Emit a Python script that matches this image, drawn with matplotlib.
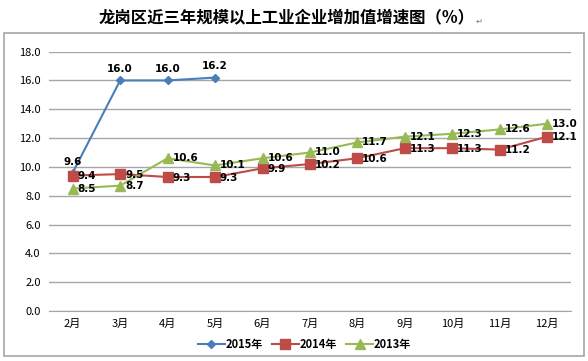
import matplotlib.pyplot as plt
from matplotlib.patches import Rectangle

plt.rcParams['font.family'] = ['Noto Sans CJK SC', 'DejaVu Sans']

#----------datos----------#
meses = ["2月", "3月", "4月", "5月", "6月", "7月", "8月", "9月", "10月", "11月", "12月"]
v2015 = [9.6, 16.0, 16.0, 16.2]
v2014 = [9.4, 9.5, 9.3, 9.3, 9.9, 10.2, 10.6, 11.3, 11.3, 11.2, 12.1]
v2013 = [8.5, 8.7, 10.6, 10.1, 10.6, 11.0, 11.7, 12.1, 12.3, 12.6, 13.0]
yticks = [0, 2, 4, 6, 8, 10, 12, 14, 16, 18]

c15 = "#4A7EBB"
c14 = "#BE4B48"
c13 = "#98B954"

fig = plt.figure(figsize=(5.88, 3.61), dpi=100)
fig.patches.append(Rectangle((0.006, 0.013), 0.988, 0.896, transform=fig.transFigure,
                             fill=False, edgecolor="#A6A6A6", linewidth=1.2))

fig.text(0.488, 0.952, "龙岗区近三年规模以上工业企业增加值增速图（%）", ha="center", va="center",
         fontsize=11.8, fontweight="bold")
fig.text(0.815, 0.940, "↵", ha="center", va="center", fontsize=6, color="#777777")

ax = fig.add_axes([0.0833, 0.1385, 0.8877, 0.7185])
x = list(range(len(meses)))

ax.plot(x[:len(v2015)], v2015, color=c15, marker="D", markersize=4.5, linewidth=1.5, label="2015年")
ax.plot(x, v2014, color=c14, marker="s", markersize=7.5, linewidth=1.5, label="2014年")
ax.plot(x, v2013, color=c13, marker="^", markersize=7, linewidth=1.5, label="2013年")

num = {"family": "DejaVu Sans", "fontsize": 7.5, "fontweight": "bold"}
for i, v in enumerate(v2015):
    ax.annotate(f"{v:.1f}", (x[i], v), xytext=(0, 8), textcoords="offset points",
                ha="center", va="center", **num)
for i, v in enumerate(v2014):
    ax.annotate(f"{v:.1f}", (x[i], v), xytext=(3.5, -0.5), textcoords="offset points",
                ha="left", va="center", **num)
for i, v in enumerate(v2013):
    ax.annotate(f"{v:.1f}", (x[i], v), xytext=(3.5, 0), textcoords="offset points",
                ha="left", va="center", **num)

ax.set_xlim(-0.5, len(meses) - 0.5)
ax.set_ylim(0, 18)
ax.set_yticks(yticks)
ax.set_yticklabels([f"{t:.1f}" for t in yticks], fontsize=8)
ax.set_xticks(x)
ax.set_xticklabels(meses, fontsize=8)
ax.tick_params(length=0, pad=6)
ax.grid(True, axis="y", color="#A6A6A6", linewidth=1)
ax.set_axisbelow(True)
for s in ["left", "right", "top"]:
    ax.spines[s].set_visible(False)
ax.spines["bottom"].set_color("#A6A6A6")

ax.legend(loc="center", bbox_to_anchor=(0.49, -0.13), ncol=3, frameon=False,
          prop={"size": 8, "weight": "bold"}, handlelength=2.4, columnspacing=0.8,
          handletextpad=0.1)

fig.savefig("out.png", dpi=100)
